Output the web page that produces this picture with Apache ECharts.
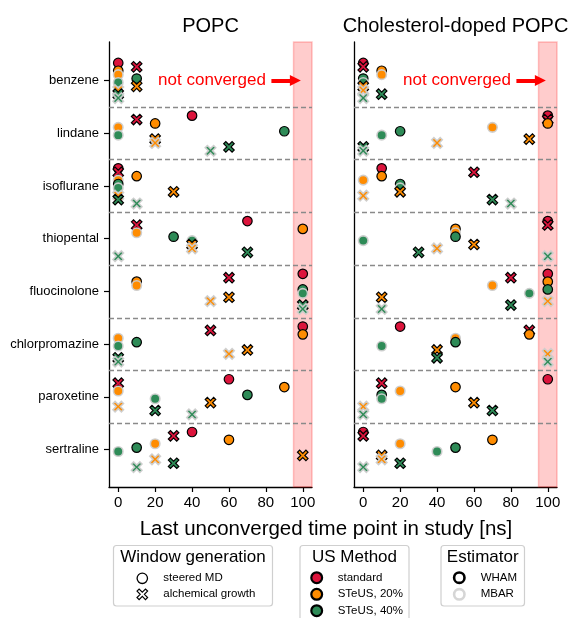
<!DOCTYPE html>
<html>
<head>
<meta charset="utf-8">
<script src="https://cdn.jsdelivr.net/npm/echarts@6/dist/echarts.min.js"></script>
<style>
  html, body { margin: 0; padding: 0; background: #fff; }
  #chart { width: 575px; height: 618px; }
</style>
</head>
<body>
<div id="chart"></div>
<script>
// Molecules (rows, top to bottom) and x-axis ticks
const molecules = ['benzene', 'lindane', 'isoflurane', 'thiopental', 'fluocinolone', 'chlorpromazine', 'paroxetine', 'sertraline'];
const xTicks = [0, 20, 40, 60, 80, 100];
const panelTitles = ['POPC', 'Cholesterol-doped POPC'];

// Last unconverged time point [ns] — POPC
const popcStdSmdWham   = [0, 40, 0, 70, 100, 100, 60, 40];
const popcStdAgWham    = [10, 10, 0, 10, 60, 50, 0, 30];
const popc20SmdWham    = [0, 20, 10, 100, 10, 100, 90, 60];
const popc20SmdMbar    = [0, 0, 0, 10, 10, 0, 0, 20];
const popc40SmdWham    = [10, 90, 0, 30, 100, 10, 70, 10];
const popc40SmdMbar    = [0, 0, 0, 40, 100, 0, 20, 0];
const popc20AgWham     = [10, 20, 30, 40, 60, 70, 50, 100];
const popc20AgMbar     = [0, 20, 0, 40, 50, 60, 0, 20];
const popc40AgWham     = [0, 60, 0, 70, 100, 0, 20, 30];
const popc40AgMbar     = [0, 50, 10, 0, 100, 0, 40, 10];

// Last unconverged time point [ns] — cholesterol-doped POPC
const cholStdSmdWham   = [0, 100, 10, 100, 100, 20, 100, 0];
const cholStdAgWham    = [0, 100, 60, 100, 80, 90, 10, 0];
const chol20SmdWham    = [10, 100, 10, 50, 100, 90, 50, 70];
const chol20SmdMbar    = [10, 70, 0, 50, 70, 50, 20, 20];
const chol40SmdWham    = [0, 20, 20, 50, 100, 50, 10, 50];
const chol40SmdMbar    = [0, 10, 20, 0, 90, 10, 10, 40];
const chol20AgWham     = [0, 90, 20, 60, 10, 40, 60, 10];
const chol20AgMbar     = [0, 40, 0, 40, 100, 100, 0, 10];
const chol40AgWham     = [10, 0, 70, 30, 80, 40, 70, 20];
const chol40AgMbar     = [0, 0, 80, 100, 10, 100, 0, 0];

const popcSets = [popcStdSmdWham, popcStdAgWham, popc20SmdWham, popc20SmdMbar, popc40SmdWham,
                  popc40SmdMbar, popc20AgWham, popc20AgMbar, popc40AgWham, popc40AgMbar];
const cholSets = [cholStdSmdWham, cholStdAgWham, chol20SmdWham, chol20SmdMbar, chol40SmdWham,
                  chol40SmdMbar, chol20AgWham, chol20AgMbar, chol40AgWham, chol40AgMbar];

// Styling of each (method, window generation, estimator) combination, in row order
const methodColors = ['#DC143C', '#FF8C00', '#2E8B57'];
const combos = [
  { method: 0, win: 'smd', est: 'wham' },
  { method: 0, win: 'ag',  est: 'wham' },
  { method: 1, win: 'smd', est: 'wham' },
  { method: 1, win: 'smd', est: 'mbar' },
  { method: 2, win: 'smd', est: 'wham' },
  { method: 2, win: 'smd', est: 'mbar' },
  { method: 1, win: 'ag',  est: 'wham' },
  { method: 1, win: 'ag',  est: 'mbar' },
  { method: 2, win: 'ag',  est: 'wham' },
  { method: 2, win: 'ag',  est: 'mbar' }
];
const comboCount = combos.length;
const rowSpread = 1 / 3;
const FONT = 'Liberation Sans, Arial, Helvetica, sans-serif';

// Filled "X" marker outline on a 10x10 box
const X_SHAPE = [[0, 2], [2, 0], [5, 3], [8, 0], [10, 2], [7, 5], [10, 8], [8, 10], [5, 7], [2, 10], [0, 8], [3, 5]];
const X_PATH = 'path://M' + X_SHAPE.map(p => p.join(',')).join('L') + 'Z';
const yMin = -0.73, yMax = 7.71;

function rowOffset(k) {
  return -rowSpread + k * (2 * rowSpread) / (comboCount - 1);
}

const series = [];
[popcSets, cholSets].forEach((sets, p) => {
  sets.forEach((vals, k) => {
    const c = combos[k];
    series.push({
      type: 'scatter',
      xAxisIndex: p, yAxisIndex: p,
      z: 2,
      symbol: c.win === 'smd' ? 'circle' : X_PATH,
      symbolSize: c.win === 'smd' ? 9.5 : 10.5,
      itemStyle: {
        color: methodColors[c.method],
        borderColor: c.est === 'wham' ? '#000' : 'rgba(205,205,205,0.95)',
        borderWidth: c.est === 'wham' ? 1.2 : 1.6,
        opacity: 1
      },
      data: vals.map((v, i) => [v, i + rowOffset(k)])
    });
  });

  // Non-converged band
  series.push({
    type: 'scatter', xAxisIndex: p, yAxisIndex: p, data: [], z: 4, silent: true,
    markArea: {
      silent: true,
      itemStyle: { color: 'rgba(255,0,0,0.2)', borderColor: 'rgba(255,0,0,0.22)', borderWidth: 1.5 },
      data: [[{ coord: [95, yMin] }, { coord: [105, yMax] }]]
    }
  });

  // Row separators
  series.push({
    type: 'scatter', xAxisIndex: p, yAxisIndex: p, data: [], z: 5, silent: true,
    markLine: {
      silent: true, symbol: 'none', animation: false,
      label: { show: false },
      lineStyle: { type: [5, 3], color: '#8a8a8a', width: 1.4 },
      data: molecules.slice(1).map((m, i) => ({ yAxis: i + 0.5 }))
    }
  });

  // "not converged" arrow and note
  series.push({
    type: 'scatter', xAxisIndex: p, yAxisIndex: p, data: [], z: 6, silent: true,
    itemStyle: { color: '#ff0000' },
    markLine: {
      silent: true, animation: false,
      symbol: ['none', 'triangle'], symbolSize: 11,
      label: { show: false },
      itemStyle: { color: '#ff0000' },
      lineStyle: { type: 'solid', color: '#ff0000', width: 4 },
      data: [[
        { coord: [83, 0], symbol: 'none' },
        { coord: [96, 0], symbol: 'triangle', symbolSize: 11 }
      ]]
    },
    markPoint: {
      silent: true, animation: false,
      symbol: 'circle', symbolSize: 0,
      label: { show: true, position: 'left', distance: 0, formatter: 'not converged',
               color: '#ff0000', fontSize: 17, fontFamily: FONT },
      data: [{ coord: [80, 0] }]
    }
  });
});

function xAxisCfg(p) {
  return {
    gridIndex: p, type: 'value', min: -5, max: 105,
    axisLine: { show: true, onZero: false, lineStyle: { color: '#000', width: 1.3 } },
    axisTick: { show: true, customValues: xTicks, length: 5, lineStyle: { color: '#000', width: 1.2 } },
    axisLabel: { customValues: xTicks, fontSize: 15, color: '#000', fontFamily: FONT, margin: 8 },
    splitLine: { show: false }
  };
}
function yAxisCfg(p) {
  const rows = molecules.map((m, i) => i);
  return {
    gridIndex: p, type: 'value', inverse: true, min: yMin, max: yMax,
    axisLine: { show: true, onZero: false, lineStyle: { color: '#000', width: 1.3 } },
    axisTick: { show: p === 0, customValues: rows, length: 5, lineStyle: { color: '#000', width: 1.2 } },
    axisLabel: {
      show: p === 0, customValues: rows, fontSize: 13, color: '#000', fontFamily: FONT, margin: 10,
      formatter: v => molecules[Math.round(v)]
    },
    splitLine: { show: false }
  };
}

// Legend boxes
const legendText = (x, y, text, size, align) => ({
  type: 'text', x, y, silent: true,
  style: { text, fontSize: size, fontFamily: FONT, fill: '#000', align: align || 'left', verticalAlign: 'middle' }
});
const legendBox = (x, y, w, h) => ({
  type: 'rect', silent: true, shape: { x, y, width: w, height: h, r: 3 },
  style: { fill: '#fff', stroke: '#cfcfcf', lineWidth: 1.2 }
});
const legendCircle = (cx, cy, r, fill, stroke, lw) => ({
  type: 'circle', silent: true, shape: { cx, cy, r },
  style: { fill, stroke, lineWidth: lw }
});
const legendX = (cx, cy, size) => ({
  type: 'polygon', silent: true,
  shape: { points: X_SHAPE.map(([px, py]) => [cx + (px - 5) * size / 10, cy + (py - 5) * size / 10]) },
  style: { fill: '#fff', stroke: '#000', lineWidth: 1.2 }
});

const usLabels = ['standard', 'STeUS, 20%', 'STeUS, 40%'];
const usRowsY = [577.7, 594.3, 610.7];

const graphic = [
  { type: 'text', x: 210.5, y: 26, silent: true,
    style: { text: panelTitles[0], fontSize: 20, fontFamily: FONT, fill: '#000', align: 'center', verticalAlign: 'middle' } },
  { type: 'text', x: 455.5, y: 26, silent: true,
    style: { text: panelTitles[1], fontSize: 20, fontFamily: FONT, fill: '#000', align: 'center', verticalAlign: 'middle' } },
  { type: 'text', x: 326, y: 529, silent: true,
    style: { text: 'Last unconverged time point in study [ns]', fontSize: 20.5, fontFamily: FONT, fill: '#000', align: 'center', verticalAlign: 'middle' } },

  legendBox(113.5, 545.5, 159, 60.5),
  legendText(193, 557.7, 'Window generation', 17, 'center'),
  legendCircle(142.3, 578.3, 5.2, '#fff', '#000', 1.3),
  legendX(142.3, 594.3, 10.6),
  legendText(163.3, 578.3, 'steered MD', 11.5),
  legendText(163.3, 594.3, 'alchemical growth', 11.5),

  legendBox(300, 545.5, 109, 82),
  legendText(354.5, 557.7, 'US Method', 17, 'center'),
  ...usLabels.map((t, i) => legendCircle(316.7, usRowsY[i], 5.4, methodColors[i], '#000', 2.2)),
  ...usLabels.map((t, i) => legendText(337.7, usRowsY[i], t, 11.5)),

  legendBox(441, 545.5, 83.5, 60.5),
  legendText(482.7, 557.7, 'Estimator', 17, 'center'),
  legendCircle(459.3, 577.7, 5.2, '#fff', '#000', 2.6),
  legendCircle(459.3, 594.3, 5.2, '#fff', '#d6d6d6', 2.6),
  legendText(480.7, 577.7, 'WHAM', 11.5),
  legendText(480.7, 594.3, 'MBAR', 11.5)
];

const chart = echarts.init(document.getElementById('chart'), null, { renderer: 'canvas' });
chart.setOption({
  animation: false,
  backgroundColor: '#fff',
  textStyle: { fontFamily: FONT },
  grid: [
    { left: 109, top: 42, width: 203, height: 445, outerBoundsMode: 'none' },
    { left: 354, top: 42, width: 203, height: 445, outerBoundsMode: 'none' }
  ],
  xAxis: [xAxisCfg(0), xAxisCfg(1)],
  yAxis: [yAxisCfg(0), yAxisCfg(1)],
  series,
  graphic
});
</script>
</body>
</html>
